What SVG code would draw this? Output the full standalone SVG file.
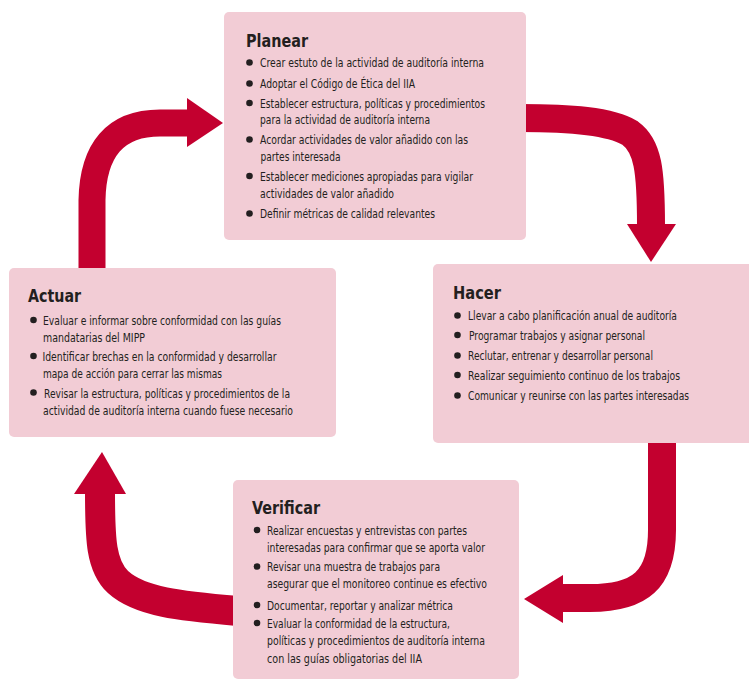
<svg xmlns="http://www.w3.org/2000/svg" width="749" height="683" viewBox="0 0 749 683">
<style>
.box{fill:#f2ccd5}
.arr{fill:none;stroke:#c3002f}
.head{fill:#c3002f}
.t{font-family:"DejaVu Sans Condensed","Liberation Sans",sans-serif;fill:#231f20}
.title{font-size:18px;font-weight:bold}
.b{font-size:11.5px}
.dot{fill:#231f20}
</style>
<rect width="749" height="683" fill="#ffffff"/>
<g id="connectors">
<path class="arr" stroke-width="28" d="M520,118 C570,118 610,121 630,133 C648,146 651,170 651,226"/>
<polygon class="head" points="627,224 676,224 651,262"/>
<path class="arr" stroke-width="28" d="M662,438 L662,530 C662,580 640,598 590,598 L562,598"/>
<polygon class="head" points="563,575 563,623 524,599"/>
<path class="arr" stroke-width="30" d="M238,611 C180,606 140,602 118,582 C101,566 100,540 100,492"/>
<polygon class="head" points="74,494 126,494 102,452"/>
<path class="arr" stroke-width="27" d="M92,272 L92,200 C93,150 115,123 160,123 L189,123"/>
<polygon class="head" points="187,98 187,147 223,123"/>
</g>
<g id="planear">
<rect class="box" x="224" y="12" width="302" height="228" rx="5"/>
<text class="t title" x="246" y="47" textLength="62" lengthAdjust="spacingAndGlyphs">Planear</text>
<g class="t b">
<circle class="dot" cx="249.5" cy="62.5" r="3.3"/><text x="260" y="67" textLength="224" lengthAdjust="spacingAndGlyphs">Crear estuto de la actividad de auditoría interna</text>
<circle class="dot" cx="249.5" cy="83.5" r="3.3"/><text x="260" y="88" textLength="155" lengthAdjust="spacingAndGlyphs">Adoptar el Código de Ética del IIA</text>
<circle class="dot" cx="249.5" cy="103" r="3.3"/><text x="260" y="108" textLength="225" lengthAdjust="spacingAndGlyphs">Establecer estructura, políticas y procedimientos</text>
<text x="260" y="124" textLength="170" lengthAdjust="spacingAndGlyphs">para la actividad de auditoría interna</text>
<circle class="dot" cx="249.5" cy="139.5" r="3.3"/><text x="260" y="144" textLength="208" lengthAdjust="spacingAndGlyphs">Acordar actividades de valor añadido con las</text>
<text x="260.5" y="161" textLength="80" lengthAdjust="spacingAndGlyphs">partes interesada</text>
<circle class="dot" cx="249.5" cy="176" r="3.3"/><text x="260" y="181" textLength="213" lengthAdjust="spacingAndGlyphs">Establecer mediciones apropiadas para vigilar</text>
<text x="260" y="198" textLength="134" lengthAdjust="spacingAndGlyphs">actividades de valor añadido</text>
<circle class="dot" cx="249.5" cy="213.5" r="3.3"/><text x="260" y="218" textLength="175" lengthAdjust="spacingAndGlyphs">Definir métricas de calidad relevantes</text>
</g>
</g>
<g id="hacer">
<rect class="box" x="433" y="264" width="322" height="179" rx="5"/>
<text class="t title" x="453" y="299" textLength="48" lengthAdjust="spacingAndGlyphs">Hacer</text>
<g class="t b">
<circle class="dot" cx="457.5" cy="315.5" r="3.3"/><text x="468" y="320" textLength="209" lengthAdjust="spacingAndGlyphs">Llevar a cabo planificación anual de auditoría</text>
<circle class="dot" cx="457.5" cy="335" r="3.3"/><text x="469" y="340" textLength="176" lengthAdjust="spacingAndGlyphs">Programar trabajos y asignar personal</text>
<circle class="dot" cx="457.5" cy="355.5" r="3.3"/><text x="468" y="360" textLength="185" lengthAdjust="spacingAndGlyphs">Reclutar, entrenar y desarrollar personal</text>
<circle class="dot" cx="457.5" cy="375" r="3.3"/><text x="468" y="380" textLength="212" lengthAdjust="spacingAndGlyphs">Realizar seguimiento continuo de los trabajos</text>
<circle class="dot" cx="457.5" cy="395.5" r="3.3"/><text x="468" y="400" textLength="221" lengthAdjust="spacingAndGlyphs">Comunicar y reunirse con las partes interesadas</text>
</g>
</g>
<g id="actuar">
<rect class="box" x="9" y="268" width="327" height="169" rx="5"/>
<text class="t title" x="28" y="302" textLength="53" lengthAdjust="spacingAndGlyphs">Actuar</text>
<g class="t b">
<circle class="dot" cx="33.5" cy="320" r="3.3"/><text x="43" y="325" textLength="238" lengthAdjust="spacingAndGlyphs">Evaluar e informar sobre conformidad con las guías</text>
<text x="43" y="342" textLength="102" lengthAdjust="spacingAndGlyphs">mandatarias del MIPP</text>
<circle class="dot" cx="33.5" cy="356" r="3.3"/><text x="42.5" y="361" textLength="234" lengthAdjust="spacingAndGlyphs">Identificar brechas en la conformidad y desarrollar</text>
<text x="43" y="378" textLength="179" lengthAdjust="spacingAndGlyphs">mapa de acción para cerrar las mismas</text>
<circle class="dot" cx="33.5" cy="392.5" r="3.3"/><text x="44" y="398" textLength="246" lengthAdjust="spacingAndGlyphs">Revisar la estructura, políticas y procedimientos de la</text>
<text x="43" y="415" textLength="250" lengthAdjust="spacingAndGlyphs">actividad de auditoría interna cuando fuese necesario</text>
</g>
</g>
<g id="verificar">
<rect class="box" x="233" y="480" width="286" height="199" rx="5"/>
<text class="t title" x="252" y="514" textLength="68" lengthAdjust="spacingAndGlyphs">Verificar</text>
<g class="t b">
<circle class="dot" cx="257" cy="530" r="3.3"/><text x="267" y="535" textLength="200" lengthAdjust="spacingAndGlyphs">Realizar encuestas y entrevistas con partes</text>
<text x="267" y="552" textLength="218" lengthAdjust="spacingAndGlyphs">interesadas para confirmar que se aporta valor</text>
<circle class="dot" cx="257" cy="566.5" r="3.3"/><text x="267" y="571" textLength="173" lengthAdjust="spacingAndGlyphs">Revisar una muestra de trabajos para</text>
<text x="267" y="588" textLength="220" lengthAdjust="spacingAndGlyphs">asegurar que el monitoreo continue es efectivo</text>
<circle class="dot" cx="257" cy="605" r="3.3"/><text x="267" y="610" textLength="186" lengthAdjust="spacingAndGlyphs">Documentar, reportar y analizar métrica</text>
<circle class="dot" cx="257" cy="623" r="3.3"/><text x="267" y="628" textLength="183" lengthAdjust="spacingAndGlyphs">Evaluar la conformidad de la estructura,</text>
<text x="267" y="645" textLength="218" lengthAdjust="spacingAndGlyphs">políticas y procedimientos de auditoría interna</text>
<text x="267" y="663" textLength="155" lengthAdjust="spacingAndGlyphs">con las guías obligatorias del IIA</text>
</g>
</g>
</svg>
